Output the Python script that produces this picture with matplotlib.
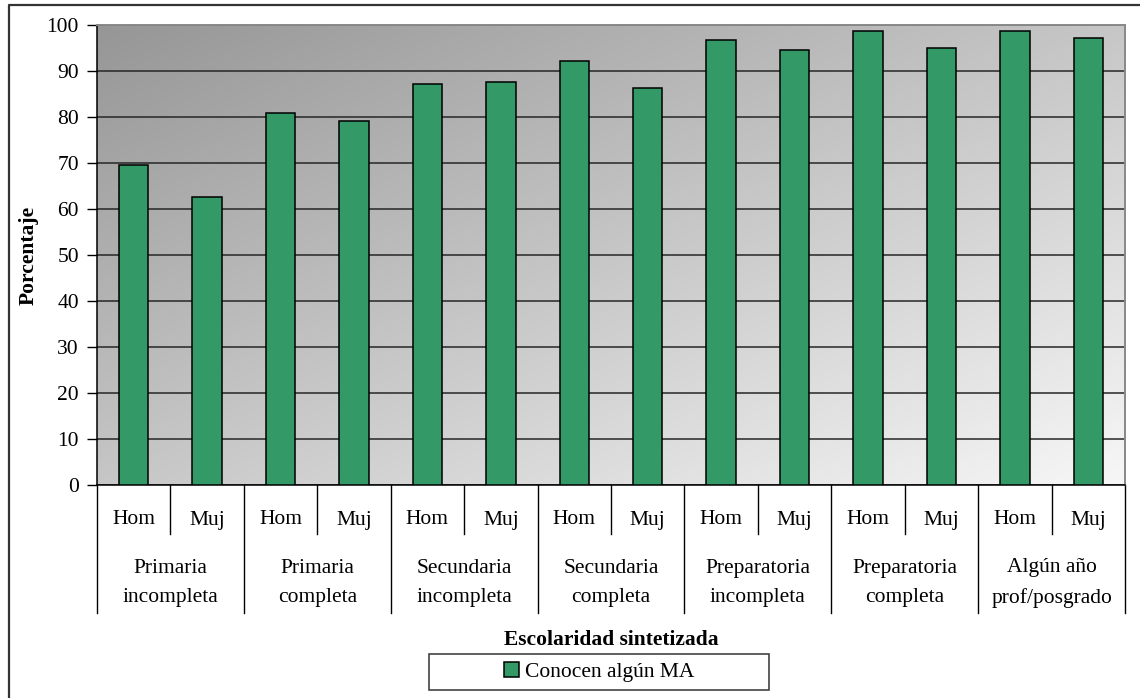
import numpy as np
import matplotlib
matplotlib.use('Agg')
from matplotlib import pyplot as plt
from matplotlib.lines import Line2D
from matplotlib.patches import Rectangle

plt.rcParams['font.family'] = ['Liberation Serif', 'DejaVu Serif']
plt.rcParams['font.size'] = 15.5

# Porcentaje que conoce algun metodo anticonceptivo, por sexo y escolaridad
niveles = ['Primaria\nincompleta', 'Primaria\ncompleta', 'Secundaria\nincompleta',
           'Secundaria\ncompleta', 'Preparatoria\nincompleta', 'Preparatoria\ncompleta',
           'Algún año\nprof/posgrado']
sexos = ['Hom', 'Muj']
conocen = [69.6, 62.5, 80.9, 79.1, 87.2, 87.5, 92.1, 86.2,
           96.8, 94.6, 98.7, 94.9, 98.7, 97.1]
serie = 'Conocen algún MA'

W, H = 1140, 698
fig = plt.figure(figsize=(W / 100, H / 100), dpi=100)
fig.patch.set_facecolor('white')

# marco exterior (solo arriba e izquierda)
fig.add_artist(Line2D([9 / W, 9 / W, 1], [0, 1 - 5 / H, 1 - 5 / H],
                      transform=fig.transFigure, color='#333333', lw=1.6))

x0, x1, y0, y1 = 97, 1125, 25, 485
ax = fig.add_axes([x0 / W, 1 - y1 / H, (x1 - x0) / W, (y1 - y0) / H])

# fondo con degradado diagonal gris
n = 300
gx, gy = np.meshgrid(np.linspace(0, 1, n), np.linspace(0, 1, n))
t = (gx + gy) / 2
g = (150 + 97 * t) / 255
ax.imshow(np.dstack([g, g, g]), extent=(0, 1, 0, 1), transform=ax.transAxes,
          origin='upper', aspect='auto', zorder=0, interpolation='bilinear')

x = np.arange(len(conocen))
barras = ax.bar(x, conocen, width=0.4, color='#339966', edgecolor='black',
                linewidth=1.1, zorder=3, label=serie)

ax.set_xlim(-0.5, len(conocen) - 0.5)
ax.set_ylim(0, 100)
ax.set_yticks(range(0, 101, 10))
ax.set_xticks([])
ax.yaxis.grid(True, color='#262626', lw=1.1)
ax.set_axisbelow(True)
ax.tick_params(axis='y', length=7, width=1, pad=6, labelsize=15.5)

for s in ['left', 'bottom']:
    ax.spines[s].set_color('black')
    ax.spines[s].set_linewidth(1.1)
for s in ['top', 'right']:
    ax.spines[s].set_color('#888888')
    ax.spines[s].set_linewidth(1.4)

# etiquetas de categoria en dos niveles
trans = ax.get_xaxis_transform()
px = 1 / (y1 - y0)
for i in range(len(conocen)):
    ax.text(i, -35 * px, sexos[i % 2], transform=trans, ha='center', va='center')
for k, nivel in enumerate(niveles):
    ax.text(2 * k + 0.5, -98 * px, nivel, transform=trans, ha='center',
            va='center', linespacing=1.75)
    ax.plot([2 * k + 0.5] * 2, [0, -49 * px], transform=trans, color='black',
            lw=1, clip_on=False)
for b in np.arange(-0.5, len(conocen), 2):
    ax.plot([b, b], [0, -128 * px], transform=trans, color='black', lw=1,
            clip_on=False)

fig.text(29 / W, 1 - 255 / H, 'Porcentaje', rotation=90, ha='center',
         va='center', fontweight='bold', fontsize=15.5)
fig.text(611 / W, 1 - 640 / H, 'Escolaridad sintetizada', ha='center',
         va='center', fontweight='bold', fontsize=15.5)

# leyenda
fig.add_artist(Rectangle((429 / W, 1 - 690 / H), 340 / W, 36 / H,
                         transform=fig.transFigure, facecolor='white',
                         edgecolor='#333333', lw=1.1))
fig.legend(handles=[barras], loc='center', bbox_to_anchor=(599 / W, 1 - 672 / H),
           frameon=False, handlelength=0.7, handleheight=0.7, handletextpad=0.3,
           fontsize=15.5)

plt.savefig('out.png', dpi=100)
